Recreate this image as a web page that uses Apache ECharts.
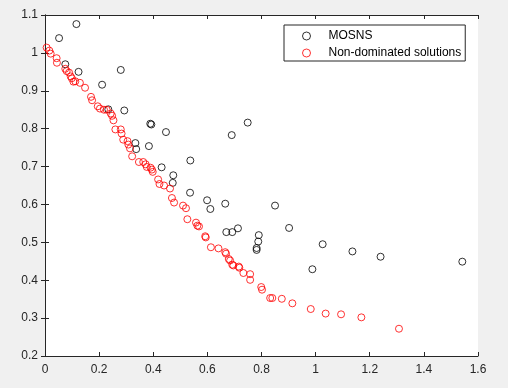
<!DOCTYPE html>
<html>
<head>
<meta charset="utf-8">
<script src="https://cdn.jsdelivr.net/npm/echarts@6/dist/echarts.min.js"></script>
<style>
html,body{margin:0;padding:0;background:#f0f0f0;}
#c{width:508px;height:388px;}
</style>
</head>
<body>
<div id="c"></div>
<script>
// MOSNS solutions
var mosnsX = [0.116,0.052,0.075,0.124,0.211,0.280,0.234,0.293,0.389,0.393,0.447,0.334,0.337,0.384,0.431,0.537,0.474,0.472,0.536,0.690,0.749,0.599,0.611,0.666,0.670,0.692,0.713,0.850,0.902,0.790,0.788,0.782,0.782,1.026,1.136,1.240,0.988,1.542];
var mosnsY = [1.076,1.039,0.970,0.950,0.916,0.955,0.851,0.848,0.813,0.811,0.791,0.762,0.746,0.754,0.698,0.716,0.677,0.657,0.631,0.783,0.816,0.611,0.588,0.602,0.527,0.527,0.537,0.597,0.538,0.519,0.502,0.485,0.480,0.495,0.476,0.462,0.429,0.449];
// Non-dominated solutions
var ndX = [0.006,0.016,0.021,0.043,0.044,0.075,0.080,0.089,0.095,0.099,0.105,0.112,0.129,0.148,0.170,0.174,0.195,0.203,0.218,0.228,0.243,0.248,0.253,0.260,0.280,0.283,0.289,0.305,0.308,0.314,0.322,0.347,0.363,0.372,0.376,0.390,0.395,0.398,0.418,0.423,0.440,0.462,0.469,0.477,0.510,0.521,0.526,0.558,0.563,0.569,0.592,0.594,0.613,0.641,0.666,0.669,0.679,0.684,0.692,0.696,0.716,0.718,0.733,0.758,0.758,0.799,0.802,0.832,0.840,0.875,0.914,0.982,1.037,1.094,1.169,1.308];
var ndY = [1.014,1.006,0.998,0.986,0.974,0.958,0.952,0.948,0.938,0.933,0.924,0.925,0.921,0.908,0.884,0.875,0.859,0.853,0.850,0.850,0.840,0.834,0.822,0.798,0.798,0.787,0.771,0.767,0.758,0.748,0.727,0.712,0.712,0.706,0.699,0.697,0.692,0.686,0.666,0.654,0.650,0.642,0.617,0.605,0.597,0.590,0.561,0.552,0.544,0.542,0.516,0.513,0.487,0.484,0.474,0.470,0.456,0.452,0.441,0.439,0.436,0.433,0.419,0.416,0.401,0.382,0.375,0.353,0.353,0.351,0.339,0.324,0.312,0.310,0.302,0.272];
var seriesNames = ['MOSNS','Non-dominated solutions'];

function pairs(xs, ys){ return xs.map(function(x,i){ return [x, ys[i]]; }); }

var txt = '#262626';
var font = 'Liberation Sans, Arial, sans-serif';
var tickInside = {show:true, inside:true, length:4, lineStyle:{color:txt, width:1}};
var axisLine = {show:true, lineStyle:{color:txt, width:1}};

var chart = echarts.init(document.getElementById('c'), null, {renderer:'canvas'});
chart.setOption({
  backgroundColor:'#f0f0f0',
  animation:false,
  grid:{left:45, right:30, top:15, bottom:32, show:true, backgroundColor:'#ffffff', borderWidth:0},
  legend:{
    orient:'vertical', left:284, top:25,
    backgroundColor:'#ffffff', borderColor:txt, borderWidth:1, borderRadius:0,
    padding:[5,4,2,18], itemGap:5, itemWidth:34, itemHeight:8,
    itemStyle:{borderWidth:1},
    textStyle:{color:'#000', fontSize:12, fontFamily:font},
    data:[{name:seriesNames[0]},{name:seriesNames[1]}]
  },
  xAxis:[
    {type:'value', min:0, max:1.6, interval:0.2, position:'bottom',
     axisLine:axisLine, axisTick:tickInside, splitLine:{show:false},
     axisLabel:{color:txt, fontSize:12, fontFamily:font, margin:8}},
    {type:'value', min:0, max:1.6, interval:0.2, position:'top',
     axisLine:axisLine, axisTick:tickInside, splitLine:{show:false}, axisLabel:{show:false}}
  ],
  yAxis:[
    {type:'value', min:0.2, max:1.1, interval:0.1, position:'left',
     axisLine:axisLine, axisTick:tickInside, splitLine:{show:false},
     axisLabel:{color:txt, fontSize:12, fontFamily:font, margin:7}},
    {type:'value', min:0.2, max:1.1, interval:0.1, position:'right',
     axisLine:axisLine, axisTick:tickInside, splitLine:{show:false}, axisLabel:{show:false}}
  ],
  series:[
    {name:seriesNames[0], type:'scatter', symbol:'circle', symbolSize:7,
     itemStyle:{color:'rgba(0,0,0,0)', borderColor:'#000000', borderWidth:1},
     data:pairs(mosnsX, mosnsY)},
    {name:seriesNames[1], type:'scatter', symbol:'circle', symbolSize:7,
     itemStyle:{color:'rgba(0,0,0,0)', borderColor:'#ff0000', borderWidth:1},
     data:pairs(ndX, ndY)}
  ]
});
</script>
</body>
</html>
